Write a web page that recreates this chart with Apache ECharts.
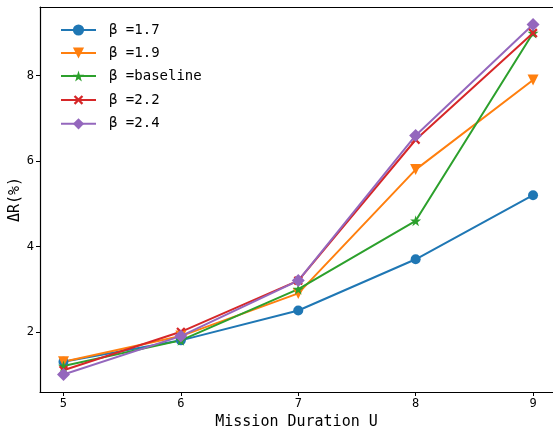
<!DOCTYPE html>
<html>
<head>
<meta charset="utf-8">
<script src="https://cdn.jsdelivr.net/npm/echarts@6/dist/echarts.min.js"></script>
<style>html,body{margin:0;padding:0;background:#fff}#main{width:553px;height:434px}</style>
</head>
<body>
<div id="main"></div>
<script>
var durations = [5, 6, 7, 8, 9];
var names = ['β =1.7', 'β =1.9', 'β =baseline', 'β =2.2', 'β =2.4'];
var beta17 = [1.3, 1.8, 2.5, 3.7, 5.2];
var beta19 = [1.3, 1.9, 2.9, 5.8, 7.9];
var baseline = [1.2, 1.8, 3.0, 4.6, 9.0];
var beta22 = [1.1, 2.0, 3.2, 6.5, 9.0];
var beta24 = [1.0, 1.9, 3.2, 6.6, 9.2];
var yTicks = [2, 4, 6, 8];

var colors = ['#1f77b4', '#ff7f0e', '#2ca02c', '#d62728', '#9467bd'];
var starPath = 'path://M50,0 L61,35 L98,35 L68,57 L79,91 L50,70 L21,91 L32,57 L2,35 L39,35 Z';
var crossPath = 'path://M4,0H6V4H10V6H6V10H4V6H0V4H4Z';
var font = 'DejaVu Sans Mono';

function pairs(vals) {
    return durations.map(function (d, i) { return [d, vals[i]]; });
}
function mk(name, vals, color, symbol, size, rotate) {
    return {
        name: name,
        type: 'line',
        data: pairs(vals),
        symbol: symbol,
        symbolSize: size,
        symbolRotate: rotate || 0,
        lineStyle: {color: color, width: 2},
        itemStyle: {color: color},
        animation: false
    };
}

var myChart = echarts.init(document.getElementById('main'));
myChart.setOption({
    color: colors,
    grid: {
        left: 40, top: 7, right: 0, bottom: 42,
        containLabel: false, outerBoundsMode: 'none',
        show: false, borderWidth: 0, borderColor: 'rgba(0,0,0,0)'
    },
    legend: {
        left: 55,
        top: 18,
        orient: 'vertical',
        itemWidth: 35,
        itemHeight: 14,
        itemGap: 9,
        data: names,
        textStyle: {fontFamily: font, fontSize: 14, color: '#000', padding: [0, 0, 0, 8]}
    },
    xAxis: [{
        type: 'value',
        min: 4.8,
        max: 9.17,
        splitLine: {show: false},
        axisLine: {lineStyle: {color: '#000', width: 1.2}},
        axisTick: {customValues: durations, length: 4, lineStyle: {color: '#000'}},
        axisLabel: {customValues: durations, fontFamily: font, fontSize: 12, color: '#000', margin: 6},
        name: 'Mission Duration U',
        nameLocation: 'middle',
        nameGap: 22,
        nameTextStyle: {fontFamily: font, fontSize: 15, color: '#000'}
    }, {
        // top spine only
        type: 'value',
        position: 'top',
        min: 4.8,
        max: 9.17,
        splitLine: {show: false},
        axisLine: {lineStyle: {color: '#000', width: 1.2}},
        axisTick: {show: false},
        axisLabel: {show: false}
    }],
    yAxis: {
        type: 'value',
        min: 0.59,
        max: 9.61,
        splitLine: {show: false},
        axisLine: {show: true, lineStyle: {color: '#000', width: 1.2}},
        axisTick: {show: true, customValues: yTicks, length: 4, lineStyle: {color: '#000'}},
        axisLabel: {customValues: yTicks, fontFamily: font, fontSize: 12, color: '#000', margin: 6},
        name: 'ΔR(%)',
        nameLocation: 'middle',
        nameGap: 17,
        nameMoveOverlap: false,
        nameTextStyle: {fontFamily: font, fontSize: 15, color: '#000'}
    },
    series: [
        mk(names[0], beta17, colors[0], 'circle', 10),
        mk(names[1], beta19, colors[1], 'triangle', 11, 180),
        mk(names[2], baseline, colors[2], starPath, 11),
        mk(names[3], beta22, colors[3], crossPath, 11, 45),
        mk(names[4], beta24, colors[4], 'diamond', 13)
    ]
});
</script>
</body>
</html>
